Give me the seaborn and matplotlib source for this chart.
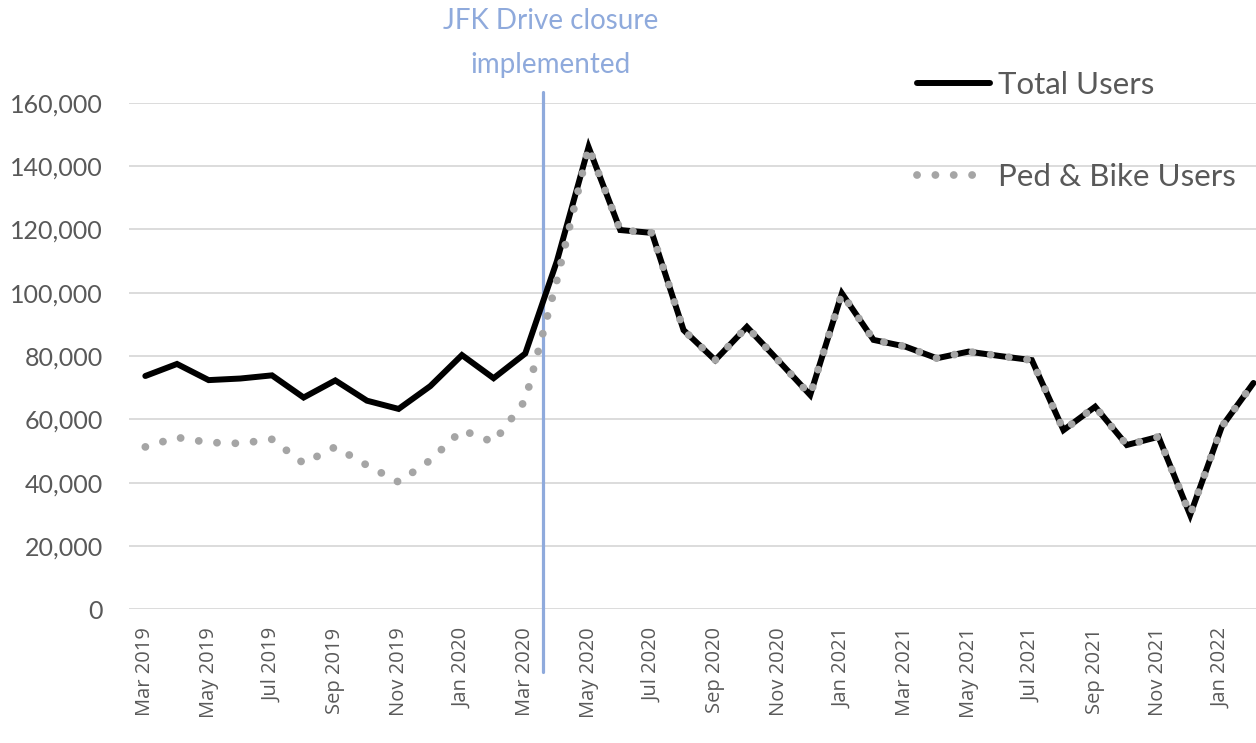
import numpy as np
import pandas as pd
import matplotlib
matplotlib.use("Agg")
import matplotlib.pyplot as plt
import seaborn as sns

# 월별 이용자 수 (Mar 2019 ~ Feb 2022)
months = pd.date_range("2019-03-01", periods=36, freq="MS")
month_labels = [d.strftime("%b %Y") for d in months]

total_users = [73700, 77500, 72400, 72900, 73900, 66900, 72300, 65900, 63300, 70500,
               80300, 73000, 80800, 110000, 146000, 119800, 118900, 88200, 78700, 89200,
               78500, 67700, 99800, 85100, 83000, 79300, 81400, 80000, 78700, 56600,
               64000, 51900, 54500, 29800, 57700, 71500]
ped_bike_users = [51300, 54300, 52700, 52400, 53700, 46100, 51300, 45500, 40200, 47100,
                  56600, 52800, 66000, 104000, 146000, 119800, 118900, 88200, 78700, 89200,
                  78500, 67700, 99800, 85100, 83000, 79300, 81400, 80000, 78700, 56600,
                  64000, 51900, 54500, 29800, 57700, 71500]

closure_label = "JFK Drive closure\nimplemented"
closure_pos = 12.57   # 2020년 3월과 4월 사이

df = pd.DataFrame({"idx": np.arange(len(months)),
                   "Total Users": total_users,
                   "Ped & Bike Users": ped_bike_users})

sns.set_style("white")
plt.rcParams["font.family"] = ["Lato", "DejaVu Sans"]

fig = plt.figure(figsize=(12.56, 7.43), dpi=100)
ax = fig.add_axes([0.1031, 0.1799, 0.8969, 0.6818])

grey_txt = "#595959"
sns.lineplot(data=df, x="idx", y="Total Users", ax=ax, color="black", lw=4.3,
             label="Total Users", solid_capstyle="round", solid_joinstyle="miter")
sns.lineplot(data=df, x="idx", y="Ped & Bike Users", ax=ax, color="#A5A5A5", lw=5.6,
             linestyle=(0, (0.01, 2.35)), dash_capstyle="round", label="Ped & Bike Users")

# 폐쇄 시점 세로선
ax.plot([closure_pos, closure_pos], [-19800, 163400], color="#8FAADC", lw=2.3,
        clip_on=False, zorder=1)
ax.text(12.79, 178800, closure_label, color="#8FAADC", fontsize=20, ha="center",
        va="center", linespacing=1.85)

ax.set_xlim(-0.5, 35.08)
ax.set_ylim(0, 160000)
ax.set_yticks(np.arange(0, 160001, 20000))
ax.set_yticklabels([f"{v:,}" for v in range(0, 160001, 20000)])
ax.set_xticks(df["idx"][::2])
ax.set_xticklabels(month_labels[::2], rotation=90, family="Open Sans")
ax.set_xlabel("")
ax.set_ylabel("")
ax.grid(axis="y", color="#D9D9D9", lw=1.3)
ax.set_axisbelow(True)
for s in ax.spines.values():
    s.set_visible(False)
ax.tick_params(axis="y", length=0, pad=19, labelsize=18, labelcolor=grey_txt)
ax.tick_params(axis="x", length=0, pad=13, labelsize=14.5, labelcolor=grey_txt)

leg = ax.legend(loc="upper left", bbox_to_anchor=(901 / 1256, 1 - 55 / 743),
                bbox_transform=fig.transFigure, frameon=False, borderpad=0,
                handlelength=2.35, handletextpad=0.26, labelspacing=2.05,
                prop={"size": 22.5}, labelcolor=grey_txt)

fig.savefig("out.png", dpi=100)
